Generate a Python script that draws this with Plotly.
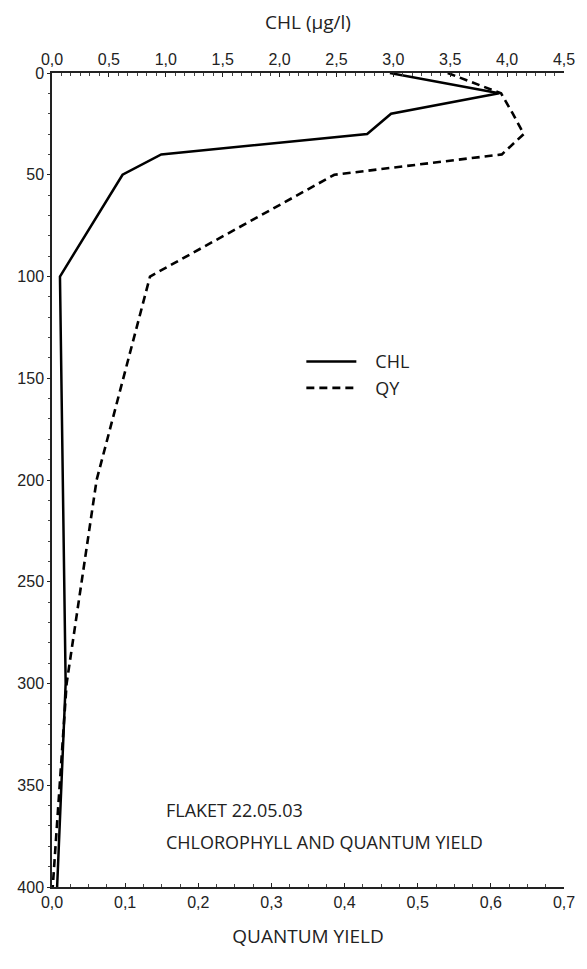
import plotly.graph_objects as go

# Data
depth_chl = [0, 10, 20, 30, 40, 50, 100, 300, 400]
chl = [2.97, 3.93, 2.98, 2.77, 0.96, 0.62, 0.07, 0.12, 0.045]

depth_qy = [0, 10, 20, 30, 40, 50, 100, 200, 300, 400]
qy = [0.541, 0.614, 0.63, 0.645, 0.615, 0.386, 0.134, 0.061, 0.020, 0.001]

chl_ticks = [0, 0.5, 1.0, 1.5, 2.0, 2.5, 3.0, 3.5, 4.0, 4.5]
chl_ticktext = ["0,0", "0,5", "1,0", "1,5", "2,0", "2,5", "3,0", "3,5", "4,0", "4,5"]
qy_ticks = [0, 0.1, 0.2, 0.3, 0.4, 0.5, 0.6, 0.7]
qy_ticktext = ["0,0", "0,1", "0,2", "0,3", "0,4", "0,5", "0,6", "0,7"]
depth_ticks = [0, 50, 100, 150, 200, 250, 300, 350, 400]
depth_ticktext = ["0", "50", "100", "150", "200", "250", "300", "350", "400"]

tick_font = dict(family="Liberation Sans, Arial", size=16, color="#222")
title_font = dict(family="Open Sans", size=19, color="#222")
text_font = dict(family="Open Sans", size=18, color="#222")

pad = "\u00a0\u00a0\u00a0"

fig = go.Figure()
fig.add_trace(go.Scatter(x=chl, y=depth_chl, xaxis="x2", yaxis="y", mode="lines",
                         name=pad + "CHL", line=dict(color="black", width=2.5)))
fig.add_trace(go.Scatter(x=qy, y=depth_qy, xaxis="x", yaxis="y", mode="lines",
                         name=pad + "QY", line=dict(color="black", width=2.6, dash="8px,5px")))

fig.update_layout(
    width=587, height=969,
    margin=dict(l=52, r=16, t=73, b=82, pad=0),
    plot_bgcolor="white", paper_bgcolor="white",
    showlegend=True,
    legend=dict(x=0.487, y=0.668, xanchor="left", yanchor="top",
                bgcolor="rgba(0,0,0,0)", font=text_font,
                itemwidth=50, tracegroupgap=0),
    xaxis=dict(range=[0, 0.7], side="bottom", anchor="y",
               showline=True, linecolor="#222", linewidth=1.5, mirror=False,
               showgrid=False, zeroline=False, ticklabeloverflow="allow",
               tickmode="array", tickvals=qy_ticks, ticktext=qy_ticktext,
               ticks="inside", ticklen=4, tickwidth=1.2, tickcolor="#222",
               minor=dict(dtick=0.025, tick0=0, ticks="inside", ticklen=3, tickwidth=1, tickcolor="#444"),
               tickfont=tick_font,
               title=dict(text="QUANTUM YIELD", font=title_font, standoff=20)),
    xaxis2=dict(range=[0, 4.5], side="top", overlaying="x", anchor="y",
                showline=True, linecolor="#222", linewidth=1.5,
                showgrid=False, zeroline=False, ticklabeloverflow="allow",
                tickmode="array", tickvals=chl_ticks, ticktext=chl_ticktext,
                ticks="inside", ticklen=4, tickwidth=1.2, tickcolor="#222",
                minor=dict(dtick=0.5 / 6, tick0=0, ticks="inside", ticklen=3, tickwidth=1, tickcolor="#444"),
                tickfont=tick_font,
                title=dict(text="CHL (µg/l)", font=title_font, standoff=16)),
    yaxis=dict(range=[400, 0], showline=True, linecolor="#222", linewidth=1.5,
               showgrid=False, zeroline=False,
               tickmode="array", tickvals=depth_ticks, ticktext=depth_ticktext,
               ticks="outside", ticklen=3, tickwidth=1.2, tickcolor="#222",
               minor=dict(dtick=10, tick0=0, ticks="outside", ticklen=2, tickwidth=1, tickcolor="#444"),
               tickfont=tick_font),
    annotations=[
        dict(text="FLAKET 22.05.03", xref="paper", yref="paper", x=0.218, y=0.0946,
             xanchor="left", yanchor="middle", showarrow=False, font=text_font),
        dict(text="CHLOROPHYLL AND QUANTUM YIELD", xref="paper", yref="paper", x=0.218, y=0.0553,
             xanchor="left", yanchor="middle", showarrow=False, font=text_font),
    ],
)

fig.write_html("out.html", config={"displayModeBar": False},
               post_script="document.body.style.margin='0';document.body.style.overflow='hidden';")
